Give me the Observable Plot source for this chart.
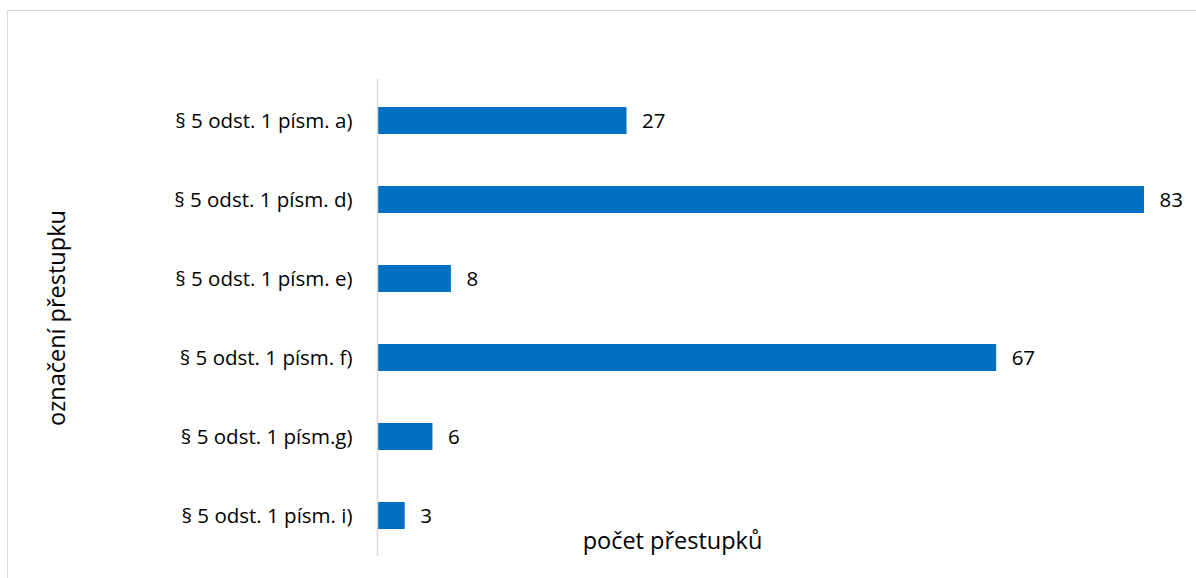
<!DOCTYPE html>
<html><head><meta charset="utf-8">
<script src="https://cdn.jsdelivr.net/npm/d3@7"></script>
<script src="https://cdn.jsdelivr.net/npm/@observablehq/plot@0.6"></script>
<style>
body{margin:0;background:#fff;}
#wrap{position:relative;width:1196px;height:578px;overflow:hidden;}
#frame{position:absolute;left:7px;top:10px;width:1300px;height:700px;border:1.5px solid #d9d9d9;box-sizing:border-box;}
#chart{position:absolute;left:0;top:0;}
</style></head>
<body><div id="wrap"><div id="frame"></div><div id="chart"></div></div>
<script>
const categories = ["§ 5 odst. 1 písm. a)","§ 5 odst. 1 písm. d)","§ 5 odst. 1 písm. e)","§ 5 odst. 1 písm. f)","§ 5 odst. 1 písm.g)","§ 5 odst. 1 písm. i)"];
const values = [27, 83, 8, 67, 6, 3];
const xTitle = "počet přestupků";
const yTitle = "označení přestupku";

const data = categories.map((c,i)=>({cat:c, val:values[i]}));
const font = "'Open Sans', Lato, sans-serif";

const chart = Plot.plot({
  width:1196, height:578,
  marginLeft:377, marginRight:52, marginTop:79, marginBottom:22,
  style:{fontFamily:font, fontSize:"20.5px", color:"#000", background:"transparent"},
  x:{domain:[0,83], axis:null},
  y:{domain:categories, padding:0, label:null},
  marks:[
    Plot.axisY({tickSize:0, tickPadding:25, fontSize:20.5, label:null}),
    Plot.barX(data,{y:"cat", x:"val", fill:"#0070C0", insetTop:26, insetBottom:26}),
    Plot.ruleX([0],{stroke:"#d9d9d9", strokeWidth:1.5}),
    Plot.text(data,{y:"cat", x:"val", text:d=>String(d.val), textAnchor:"start", dx:15, fontSize:20.5, fill:"#000"}),
    Plot.text([xTitle],{frameAnchor:"bottom-left", dx:295, dy:-8, textAnchor:"middle", fontSize:23.5, fill:"#000"}),
    Plot.text([yTitle],{frameAnchor:"left", dx:-320, rotate:-90, textAnchor:"middle", fontSize:23.5, fill:"#000"})
  ]
});
document.getElementById("chart").appendChild(chart);
</script></body></html>
